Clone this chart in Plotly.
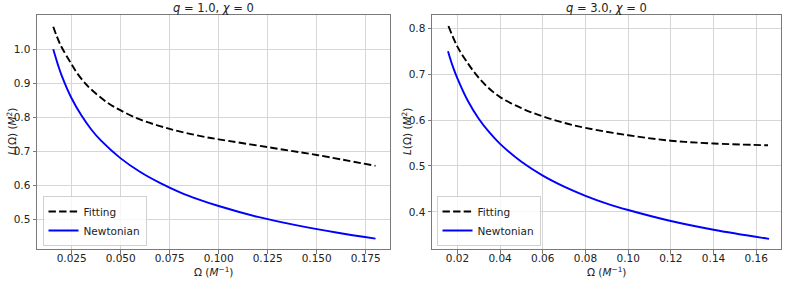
import plotly.graph_objects as go

# ---------------- data ----------------
# Left panel: q = 1.0, chi = 0
omega_fit_q1 = [0.0156, 0.019, 0.025, 0.0276, 0.0318, 0.0347, 0.0429, 0.050, 0.0604, 0.070,
                0.0794, 0.0939, 0.100, 0.125, 0.150, 0.180]
L_fit_q1 = [1.066, 1.016, 0.955, 0.931, 0.900, 0.883, 0.844, 0.820, 0.792, 0.774,
            0.759, 0.741, 0.735, 0.712, 0.689, 0.657]

omega_newt_q1 = [0.0156, 0.0165, 0.018, 0.020, 0.025, 0.030, 0.035, 0.040, 0.050, 0.060, 0.070,
                 0.080, 0.090, 0.100, 0.120, 0.140, 0.160, 0.180]
L_newt_q1 = [1.000, 0.982, 0.954, 0.921, 0.855, 0.805, 0.764, 0.731, 0.679, 0.639, 0.607,
             0.580, 0.558, 0.539, 0.507, 0.482, 0.461, 0.443]

# Right panel: q = 3.0, chi = 0
omega_fit_q3 = [0.0158, 0.020, 0.025, 0.0283, 0.033, 0.040, 0.050, 0.060, 0.070, 0.080, 0.100, 0.120, 0.140, 0.1655]
L_fit_q3 = [0.805, 0.760, 0.723, 0.702, 0.677, 0.650, 0.626, 0.608, 0.594, 0.583, 0.567, 0.555, 0.549, 0.545]

omega_newt_q3 = [0.0156, 0.0165, 0.018, 0.020, 0.025, 0.030, 0.035, 0.040, 0.050, 0.060, 0.070,
                 0.080, 0.090, 0.100, 0.120, 0.140, 0.166]
L_newt_q3 = [0.750, 0.736, 0.715, 0.691, 0.641, 0.603, 0.573, 0.548, 0.509, 0.479, 0.455,
             0.435, 0.418, 0.404, 0.380, 0.361, 0.341]

titles = ["<i>q</i> = 1.0, <i>χ</i> = 0", "<i>q</i> = 3.0, <i>χ</i> = 0"]
xtick_left = [0.025, 0.050, 0.075, 0.100, 0.125, 0.150, 0.175]
ytick_left = [0.5, 0.6, 0.7, 0.8, 0.9, 1.0]
xtick_right = [0.02, 0.04, 0.06, 0.08, 0.10, 0.12, 0.14, 0.16]
ytick_right = [0.4, 0.5, 0.6, 0.7, 0.8]

# ---------------- figure ----------------
W, H = 789, 281
FONT = "DejaVu Sans"
FS = 10.5
DASH = "7.4px,3.2px"

fig = go.Figure()

fig.add_trace(go.Scatter(x=omega_fit_q1, y=L_fit_q1, mode="lines", name="Fitting",
                         line=dict(color="black", width=1.9, dash=DASH, shape="spline"),
                         xaxis="x", yaxis="y", legend="legend"))
fig.add_trace(go.Scatter(x=omega_newt_q1, y=L_newt_q1, mode="lines", name="Newtonian",
                         line=dict(color="#0000ff", width=1.9, shape="spline"),
                         xaxis="x", yaxis="y", legend="legend"))
fig.add_trace(go.Scatter(x=omega_fit_q3, y=L_fit_q3, mode="lines", name="Fitting",
                         line=dict(color="black", width=1.9, dash=DASH, shape="spline"),
                         xaxis="x2", yaxis="y2", legend="legend2"))
fig.add_trace(go.Scatter(x=omega_newt_q3, y=L_newt_q3, mode="lines", name="Newtonian",
                         line=dict(color="#0000ff", width=1.9, shape="spline"),
                         xaxis="x2", yaxis="y2", legend="legend2"))

def px_x(p):
    return p / W

def px_y(p):
    return 1 - p / H

axis_common = dict(
    showgrid=True, gridcolor="#d6d6d6", gridwidth=1,
    showline=True, linecolor="#7a7a7a", linewidth=1, mirror=True,
    ticks="outside", ticklen=3.5, tickwidth=1, tickcolor="#7a7a7a",
    tickfont=dict(family=FONT, size=FS, color="#222222"),
    zeroline=False,
)

yd = [px_y(249), px_y(15)]
legend_common = dict(xanchor="left", yanchor="bottom",
                     bgcolor="rgba(255,255,255,0.8)", bordercolor="#d0d0d0", borderwidth=1,
                     font=dict(family=FONT, size=FS, color="#222222"), itemwidth=30,
                     tracegroupgap=0)
fig.update_layout(
    width=W, height=H,
    margin=dict(l=0, r=0, t=0, b=0),
    paper_bgcolor="white", plot_bgcolor="white",
    font=dict(family=FONT, size=FS, color="#222222"),
    xaxis=dict(domain=[px_x(37), px_x(390)], range=[0.0073, 0.1874], ticklabelstandoff=-4,
               tickvals=xtick_left, tickformat=".3f", anchor="y", **axis_common),
    yaxis=dict(domain=yd, range=[0.4126, 1.1005],
               tickvals=ytick_left, tickformat=".1f", anchor="x", **axis_common),
    xaxis2=dict(domain=[px_x(432), px_x(781)], range=[0.0081, 0.1716], ticklabelstandoff=-4,
                tickvals=xtick_right, tickformat=".2f", anchor="y2", **axis_common),
    yaxis2=dict(domain=yd, range=[0.319, 0.829],
                tickvals=ytick_right, tickformat=".1f", anchor="x2", **axis_common),
    legend=dict(x=px_x(42.5), y=px_y(246), **legend_common),
    legend2=dict(x=px_x(436.5), y=px_y(246), **legend_common),
    showlegend=True,
)

ann = []
for cx, t in [((37 + 390) / 2, titles[0]), ((432 + 781) / 2, titles[1])]:
    ann.append(dict(text=t, x=px_x(cx), y=px_y(8), xref="paper", yref="paper",
                    xanchor="center", yanchor="middle", showarrow=False,
                    font=dict(family=FONT, size=11.5, color="#222222")))
    ann.append(dict(text="Ω (<i>M</i><sup>−1</sup>)", x=px_x(cx), y=px_y(271),
                    xref="paper", yref="paper", xanchor="center", yanchor="middle",
                    showarrow=False, font=dict(family=FONT, size=FS, color="#222222")))
for cx in [11, 406]:
    ann.append(dict(text="<i>L</i>(Ω) (<i>M</i><sup>2</sup>)", x=px_x(cx), y=px_y(132),
                    xref="paper", yref="paper", xanchor="center", yanchor="middle",
                    textangle=-90, showarrow=False,
                    font=dict(family=FONT, size=FS, color="#222222")))
fig.update_layout(annotations=ann)

fig.write_html("out.html",
               config={"displayModeBar": False},
               post_script="document.body.style.margin='0';document.body.style.overflow='hidden';")
